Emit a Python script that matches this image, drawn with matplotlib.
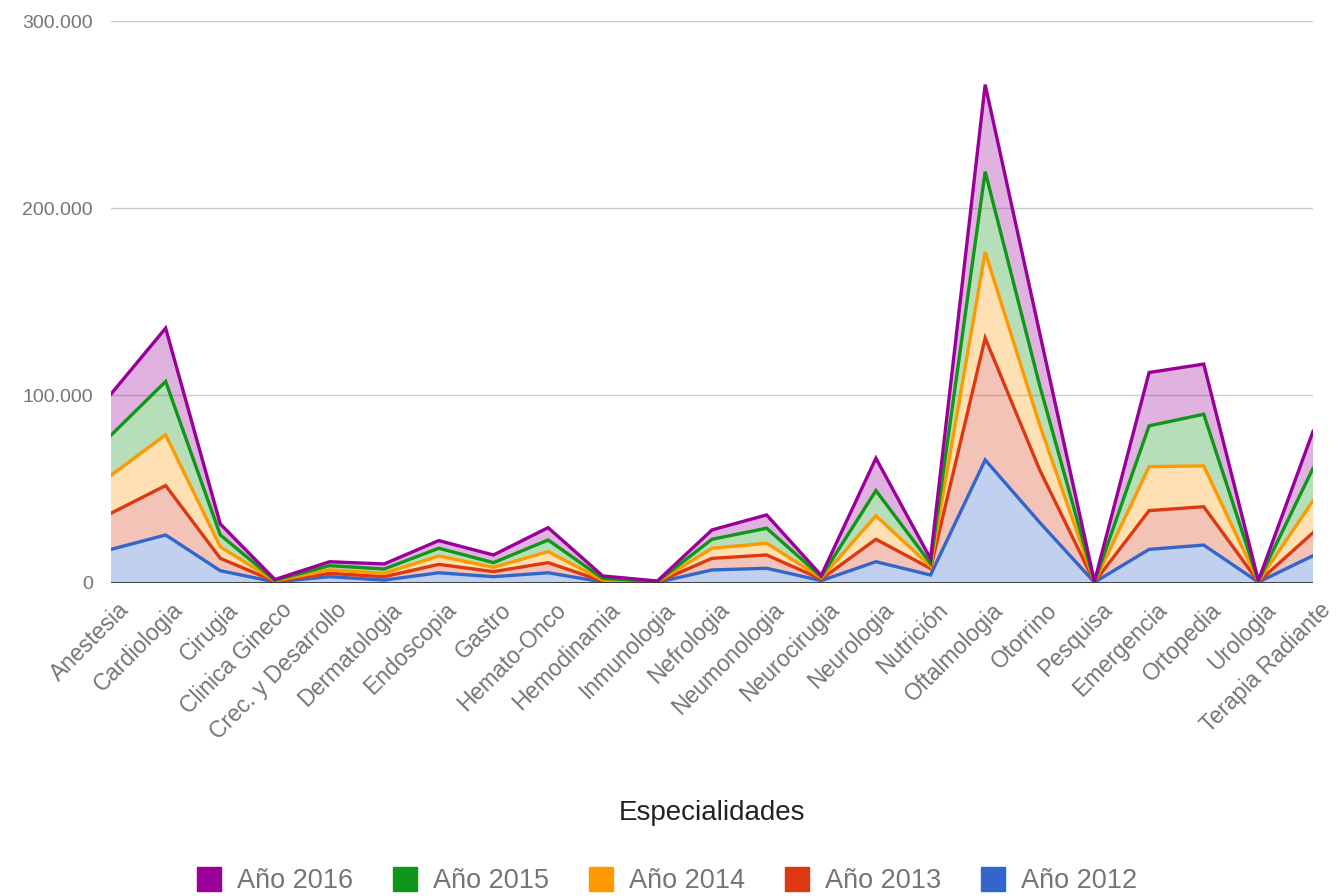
import matplotlib
matplotlib.use("Agg")
import matplotlib.pyplot as plt
import numpy as np
from matplotlib.lines import Line2D
from matplotlib.ticker import FuncFormatter
from matplotlib.transforms import ScaledTranslation

categories = ["Anestesia", "Cardiologia", "Cirugia", "Clinica Gineco", "Crec. y Desarrollo",
              "Dermatologia", "Endoscopia", "Gastro", "Hemato-Onco", "Hemodinamia",
              "Inmunologia", "Nefrologia", "Neumonologia", "Neurocirugia", "Neurologia",
              "Nutrición", "Oftalmologia", "Otorrino", "Pesquisa", "Emergencia",
              "Ortopedia", "Urologia", "Terapia Radiante"]

y2012 = [17700, 25400, 6300, 300, 3100, 1300, 5200, 3100, 5200, 300, 100, 6700, 7600, 1000,
         11100, 4000, 65500, 32000, 100, 17700, 20000, 200, 14300]
y2013 = [19300, 26400, 6600, 300, 1800, 1800, 4500, 2700, 5400, 400, 100, 6200, 7100, 800,
         12000, 3500, 65100, 28000, 100, 20700, 20500, 200, 12300]
y2014 = [20300, 27100, 6200, 300, 1800, 1800, 4500, 2300, 5900, 600, 100, 5400, 6300, 700,
         12500, 1200, 45900, 24000, 100, 23500, 21800, 200, 17100]
y2015 = [21400, 28500, 6300, 300, 2300, 2300, 4100, 2500, 6200, 900, 200, 4800, 8000, 600,
         13500, 1500, 43000, 21000, 100, 21800, 27600, 200, 17300]
y2016 = [22000, 28500, 5900, 400, 2100, 2700, 4100, 4100, 6600, 1300, 300, 5000, 7100, 700,
         17300, 2500, 46500, 28000, 100, 28500, 26800, 200, 19700]

series_names = ["Año 2012", "Año 2013", "Año 2014", "Año 2015", "Año 2016"]
colors = ["#3366cc", "#dc3912", "#ff9900", "#109618", "#990099"]
y_ticks = [0, 100000, 200000, 300000]

plt.rcParams['font.family'] = ['Liberation Sans', 'DejaVu Sans']

fig = plt.figure(figsize=(13.41, 8.96), dpi=100)
ax = fig.add_axes([111/1341, 1 - 582.5/896, (1313 - 111)/1341, (582.5 - 21)/896])

x = np.arange(len(categories))
data = np.array([y2012, y2013, y2014, y2015, y2016], dtype=float)
cum = np.cumsum(data, axis=0)

ax.stackplot(x, data, colors=colors, alpha=0.3, linewidth=0)
for i in range(len(series_names)):
    ax.plot(x, cum[i], color=colors[i], lw=2.4, solid_joinstyle='miter', zorder=3)

ax.set_xlim(0, len(categories) - 1)
ax.set_ylim(0, 300000)
ax.set_yticks(y_ticks)
ax.yaxis.set_major_formatter(FuncFormatter(lambda v, p: f"{int(v):,}".replace(",", ".")))
ax.grid(axis='y', color='#cccccc', lw=1)
ax.set_axisbelow(True)
for s in ax.spines.values():
    s.set_visible(False)
ax.axhline(0, color='#333333', lw=1.3, zorder=4)
ax.tick_params(axis='both', length=0, colors='#757575')
ax.tick_params(axis='y', pad=13, labelsize=14)

ax.set_xticks(x)
ax.set_xticklabels(categories, rotation=45, ha='right', rotation_mode='anchor',
                   color='#757575', fontsize=16.5)
for lab in ax.get_xticklabels():
    lab.set_transform(lab.get_transform() + ScaledTranslation(0.06, -0.11, fig.dpi_scale_trans))

fig.text(712/1341, 1 - 813/896, "Especialidades", ha='center', va='center', fontsize=20,
         color='#222222')

handles = [Line2D([], [], marker='s', ls='', markersize=17, markerfacecolor=colors[i],
                  markeredgecolor=colors[i]) for i in range(4, -1, -1)]
labels = [series_names[i] for i in range(4, -1, -1)]
fig.legend(handles, labels, loc='center', bbox_to_anchor=(665/1341, 1 - 881/896), ncol=5,
           frameon=False, fontsize=19.5, handletextpad=0.45, columnspacing=1.3,
           handlelength=1.2, labelcolor='#757575')

fig.savefig("out.png", dpi=100)
